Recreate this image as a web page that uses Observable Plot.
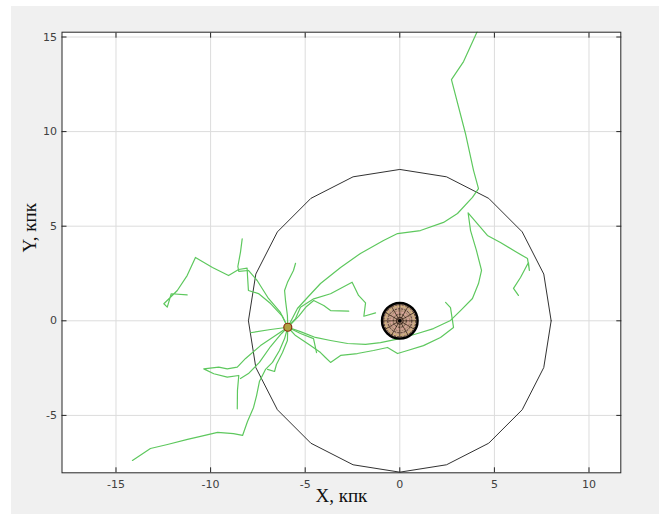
<!DOCTYPE html>
<html>
<head>
<meta charset="utf-8">
<script src="https://cdn.jsdelivr.net/npm/d3@7"></script>
<script src="https://cdn.jsdelivr.net/npm/@observablehq/plot@0.6"></script>
<style>
  body { margin: 0; background: #ffffff; }
  #wrap { position: relative; width: 659px; height: 514px; overflow: hidden; }
  #bg { position: absolute; left: 11px; top: 6px; width: 648px; height: 508px; background: #f0f0f0; }
  #chart { position: absolute; left: 0; top: 0; }
</style>
</head>
<body>
<div id="wrap"><div id="bg"></div><div id="chart"></div></div>
<script>
// ---- data (kpc) ----
const xTicks = [-15, -10, -5, 0, 5, 10];
const yTicks = [-5, 0, 5, 10, 15];
const xLabel = "X, кпк";
const yLabel = "Y, кпк";

// 20-sided outline of radius 8 kpc
const circleVerts = [[8,0],[7.61,2.47],[6.47,4.70],[4.70,6.47],[2.47,7.61],[0,8],[-2.47,7.61],[-4.70,6.47],[-6.47,4.70],[-7.61,2.47],[-8,0],[-7.61,-2.47],[-6.47,-4.70],[-4.70,-6.47],[-2.47,-7.61],[0,-8],[2.47,-7.61],[4.70,-6.47],[6.47,-4.70],[7.61,-2.47],[8,0]];

// central body and satellite marker
const centerBody = [{x: 0, y: 0}];
const satellite = [{x: -5.92, y: -0.34}];

// trajectories (green)
const track1 = [[-5.92,-0.34],[-5.41,0.65],[-4.88,1.23],[-4.19,1.97],[-3.13,2.82],[-2.08,3.56],[-0.86,4.24],[-0.12,4.61],[1.09,4.77],[2.31,5.20],[3.05,5.67],[3.84,6.52],[4.16,6.99],[3.90,7.94],[3.47,9.90],[2.73,12.75],[3.37,13.70],[4.10,15.30]];
const track2 = [[-5.92,-0.34],[-6.20,0.23],[-6.83,0.91],[-7.47,1.44],[-8.00,1.60],[-8.05,2.39],[-8.07,2.78],[-8.52,2.71],[-9.05,2.39],[-9.90,2.82],[-10.80,3.35],[-11.24,2.39],[-11.76,1.60],[-12.47,0.90],[-12.29,0.72],[-12.08,1.43],[-11.24,1.37]];
const track3 = [[-5.92,-0.34],[-6.31,0.44],[-6.94,1.18],[-7.54,2.13],[-8.00,2.66],[-8.51,2.61],[-8.56,2.87],[-8.42,3.63],[-8.33,4.33]];
const track4 = [[-5.92,-0.34],[-5.94,0.28],[-6.04,1.07],[-6.09,1.60],[-5.94,2.02],[-5.62,2.66],[-5.51,3.04]];
const track5 = [[-5.92,-0.34],[-5.51,0.12],[-5.25,0.72],[-4.55,1.16],[-3.66,1.43],[-2.52,2.04],[-2.18,1.34],[-1.81,0.95],[-1.90,0.24],[-1.28,0.42]];
const track6 = [[-5.92,-0.34],[-5.35,0.23],[-4.93,0.76],[-4.55,1.07],[-4.02,0.81],[-3.66,0.54],[-2.70,0.51]];
const track7 = [[-5.92,-0.34],[-6.83,-0.46],[-7.89,-0.63]];
const track8 = [[-5.92,-0.34],[-6.57,-0.78],[-7.36,-1.31],[-8.15,-1.99],[-8.59,-2.45],[-9.12,-2.54],[-9.57,-2.45],[-10.36,-2.54],[-9.83,-2.80],[-9.12,-2.98],[-8.51,-2.89],[-8.58,-3.68],[-8.59,-4.65]];
const track9 = [[-5.92,-0.34],[-6.25,-0.67],[-6.83,-1.36],[-7.42,-2.20],[-8.00,-2.79],[-8.42,-3.05]];
const track10 = [[-5.92,-0.34],[-6.09,-0.94],[-6.36,-1.57],[-6.73,-2.20],[-7.10,-2.57],[-7.42,-3.21],[-7.57,-3.95],[-7.73,-4.58],[-8.05,-5.32],[-8.31,-6.06],[-8.79,-5.96],[-9.63,-5.90],[-10.53,-6.11],[-11.22,-6.27],[-12.28,-6.54],[-13.18,-6.75],[-14.13,-7.38]];
const track11 = [[-5.92,-0.34],[-5.94,-1.04],[-6.20,-1.68],[-6.52,-2.31],[-6.62,-2.68],[-6.99,-2.57]];
const track12 = [[-5.92,-0.34],[-5.25,-0.57],[-4.46,-0.88],[-3.66,-1.04],[-2.76,-1.20],[-1.81,-1.25],[-1.02,-1.15],[-0.07,-0.96],[0.94,-0.67],[1.78,-0.41],[2.68,0.02],[3.21,0.54],[3.84,1.18],[4.16,1.97],[4.32,2.66],[4.05,3.72],[3.74,4.77],[3.61,5.71],[4.63,4.51],[5.32,4.14],[6.11,3.66],[6.75,3.29],[6.85,2.66],[6.80,3.08],[6.38,2.29],[6.01,1.71],[6.27,1.34]];
const track13 = [[-5.92,-0.34],[-5.51,-0.78],[-4.72,-1.31],[-4.19,-1.68],[-3.93,-1.94],[-3.66,-2.20],[-3.13,-1.83],[-2.24,-1.73],[-1.39,-1.57],[-0.65,-1.41],[-0.12,-1.73],[0.41,-1.57],[1.25,-1.31],[2.15,-0.88],[2.84,-0.35],[2.68,0.70],[2.42,0.97]];
const track14 = [[-5.92,-0.34],[-5.25,-0.67],[-4.56,-0.94],[-4.40,-1.68]];

const tracks = [track1, track2, track3, track4, track5, track6, track7, track8, track9, track10, track11, track12, track13, track14];

// ---- tables ----
const circleRows = circleVerts.map(([x, y]) => ({x, y}));
const trackRows = tracks.flatMap((t, i) => t.map(([x, y]) => ({x, y, track: i})));

// spoke glyph for the central body
const spokes = {
  draw(ctx, size) {
    const r = Math.sqrt(size / Math.PI);
    for (let i = 0; i < 12; i++) {
      const a = i * Math.PI / 6;
      ctx.moveTo(0, 0);
      ctx.lineTo(r * Math.cos(a), r * Math.sin(a));
    }
  }
};

const fmt = d => String(d);

const chart = Plot.plot({
  width: 659,
  height: 514,
  marginLeft: 61.5,
  marginRight: 38.7,
  marginTop: 31.7,
  marginBottom: 41.7,
  style: {background: "transparent", fontFamily: "DejaVu Sans", fontSize: "11px"},
  x: {domain: [-17.854, 11.681], label: null},
  y: {domain: [-8.034, 15.254], label: null},
  marks: [
    Plot.frame({fill: "white", stroke: "none"}),
    Plot.gridX(xTicks, {stroke: "#dcdcdc", strokeOpacity: 1}),
    Plot.gridY(yTicks, {stroke: "#dcdcdc", strokeOpacity: 1}),
    Plot.line(circleRows, {x: "x", y: "y", stroke: "#1a1a1a", strokeWidth: 0.9}),
    Plot.line(trackRows, {x: "x", y: "y", z: "track", stroke: "#5ec85e", strokeWidth: 1.2, strokeLinejoin: "round", clip: true}),
    // central body
    Plot.dot(centerBody, {x: "x", y: "y", r: 18, fill: "#c4a08a", stroke: "none"}),
    Plot.dot(centerBody, {x: "x", y: "y", r: 14.5, fill: "none", stroke: "#d8c070", strokeWidth: 1.2, strokeDasharray: "1.5,1.5"}),
    Plot.dot(centerBody, {x: "x", y: "y", r: 8.5, fill: "none", stroke: "#e0a0a0", strokeWidth: 1.2, strokeDasharray: "1.5,1.5"}),
    Plot.dot(centerBody, {x: "x", y: "y", r: 16, fill: "none", stroke: "#2a1a10", strokeWidth: 0.8, strokeDasharray: "2,1.2"}),
    Plot.dot(centerBody, {x: "x", y: "y", r: 12, fill: "none", stroke: "#2a1a10", strokeWidth: 0.8, strokeDasharray: "2,1.2"}),
    Plot.dot(centerBody, {x: "x", y: "y", r: 10, fill: "none", stroke: "#8a6a50", strokeWidth: 0.8, strokeDasharray: "1.5,1.5"}),
    Plot.dot(centerBody, {x: "x", y: "y", r: 6.5, fill: "none", stroke: "#2a1a10", strokeWidth: 0.8, strokeDasharray: "2,1.2"}),
    Plot.dot(centerBody, {x: "x", y: "y", r: 3.5, fill: "none", stroke: "#2a1a10", strokeWidth: 0.8}),
    Plot.dot(centerBody, {x: "x", y: "y", r: 17, symbol: spokes, fill: "none", stroke: "#2a1a10", strokeWidth: 0.7}),
    Plot.dot(centerBody, {x: "x", y: "y", r: 1.8, fill: "#000"}),
    Plot.dot(centerBody, {x: "x", y: "y", r: 17.8, fill: "none", stroke: "#000", strokeWidth: 2.4}),
    // satellite
    Plot.dot(satellite, {x: "x", y: "y", r: 4, fill: "#b0a040", stroke: "#8a3010", strokeWidth: 1.2}),
    // box and inward ticks
    Plot.frame({stroke: "#262626", strokeWidth: 1}),
    Plot.axisX(xTicks, {anchor: "bottom", tickSize: 5, dy: -5, tickFormat: () => "", stroke: "#262626", label: null}),
    Plot.axisX(xTicks, {anchor: "top", tickSize: 5, dy: 5, tickFormat: () => "", stroke: "#262626", label: null}),
    Plot.axisY(yTicks, {anchor: "left", tickSize: 5, dx: 5, tickFormat: () => "", stroke: "#262626", label: null}),
    Plot.axisY(yTicks, {anchor: "right", tickSize: 5, dx: -5, tickFormat: () => "", stroke: "#262626", label: null}),
    // tick labels
    Plot.axisX(xTicks, {anchor: "bottom", tickSize: 0, tickPadding: 7, tickFormat: fmt, fill: "#404040", label: null}),
    Plot.axisY(yTicks, {anchor: "left", tickSize: 0, tickPadding: 5, tickFormat: fmt, fill: "#404040", label: null}),
    // axis titles
    Plot.text([xLabel], {frameAnchor: "bottom", dy: 29, fontFamily: "Liberation Serif", fontSize: 19, fill: "#111"}),
    Plot.text([yLabel], {frameAnchor: "left", dx: -32, rotate: -90, fontFamily: "Liberation Serif", fontSize: 19, fill: "#111"})
  ]
});
document.getElementById("chart").appendChild(chart);
</script>
</body>
</html>
